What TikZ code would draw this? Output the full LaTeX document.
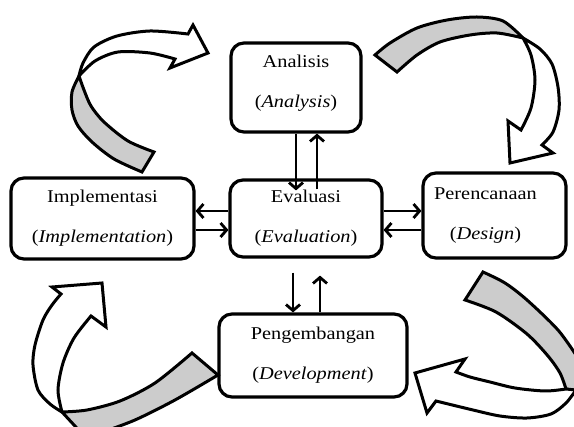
\documentclass[tikz,border=0pt]{standalone}
\usepackage{fontspec}
\setmainfont{Liberation Serif}[FakeStretch=1.13]
\usetikzlibrary{arrows.meta}
\definecolor{ribbon}{RGB}{204,204,204}
\begin{document}
\begin{tikzpicture}[x=1pt,y=-1pt,
  box/.style={draw, line width=3.2pt, rounded corners=13pt, align=center,
    font=\fontsize{18}{40}\selectfont, inner sep=0pt},
  arr/.style={line width=2.8pt, -{Straight Barb[length=6pt,width=14pt]}},
  big/.style={draw, line width=3pt}]
\clip (0,0) rectangle (574,427);
% big curved arrows
% top-left
\filldraw[big, fill=ribbon] plot[smooth] coordinates {(79,76) (72,92) (72,110) (78,126) (92,142) (114,159) (142,172)}
  -- (154,152) -- plot[smooth] coordinates {(154,152) (128,141) (104,122) (91,106) (84,90) (79,76)} -- cycle;
\filldraw[big, fill=white] plot[smooth] coordinates {(79,76) (83,63) (94,47) (117,36) (150,31) (188,34)}
  -- (193,25) -- (208,53) -- (170,68) -- plot[smooth] coordinates {(175,59) (150,53) (118,52) (95,61) (79,76)} -- cycle;
% top-right
\filldraw[big, fill=ribbon] plot[smooth] coordinates {(375,55) (390,43) (417,28) (447,20) (477,17) (503,21) (523,38)}
  -- plot[smooth] coordinates {(523,38) (497,33) (470,35) (440,42) (417,55) (397,72)} -- cycle;
\filldraw[big, fill=white] plot[smooth] coordinates {(523,38) (540,49) (552,64) (558,87) (559,110) (553,132) (542,145)}
  -- (553,153) -- (510,163) -- (508,121) -- plot[smooth] coordinates {(521,130) (531,108) (535,80) (531,55) (523,38)} -- cycle;
% bottom-left
\filldraw[big, fill=ribbon] plot[smooth] coordinates {(62,412) (87,410) (120,401) (155,383) (192,353)}
  -- (218,375) -- plot[smooth] coordinates {(218,375) (175,400) (135,420) (100,433)} -- (86,438) -- cycle;
\filldraw[big, fill=white] plot[smooth] coordinates {(62,412) (50,404) (38,390) (33,365) (35,345) (43,320) (52,305) (61,294)}
  -- (52,287) -- (102,283) -- (106,327) -- plot[smooth] coordinates {(91,316) (74,338) (63,363) (58,390) (62,412)} -- cycle;
% bottom-right
\filldraw[big, fill=ribbon] plot[smooth] coordinates {(566,389) (560,373) (548,356) (527,334) (496,312) (465,300)}
  -- (483,272) -- plot[smooth] coordinates {(483,272) (505,283) (527,300) (558,330) (578,358)} -- (580,392) -- cycle;
\filldraw[big, fill=white] plot[smooth] coordinates {(566,389) (545,391) (515,388) (490,382) (470,377) (456,372)}
  -- (465,359) -- (415,373) -- (427,413) -- plot[smooth] coordinates {(436,401) (473,410) (500,416) (527,418) (551,414) (566,403) (576,390)} -- cycle;
% boxes
\node[box, minimum width=130pt, minimum height=89pt] (ana) at (296,87.5) {Analisis\\(\emph{Analysis})\rule[-12pt]{0pt}{12pt}};
\node[box, minimum width=183pt, minimum height=81pt] (imp) at (102.5,218.5) {Implementasi\\(\emph{Implementation})};
\node[box, minimum width=152pt, minimum height=77pt] (eva) at (306,218.5) {Evaluasi\\(\emph{Evaluation})};
\node[box, minimum width=143pt, minimum height=85pt] (per) at (494.5,215.5) {Perencanaan\hspace*{18pt}\\(\emph{Design})\hspace*{18pt}};
\node[box, minimum width=188pt, minimum height=83pt] (pen) at (313,355.5) {Pengembangan\\(\emph{Development})};
% small arrows
\draw[arr] (ana.south) -- ([yshift=-12pt]ana.south |- eva.north);
\draw[arr] ([xshift=21pt,yshift=-11pt]ana.south |- eva.north) -- ([xshift=21pt]ana.south);
\draw[arr] ([yshift=7.5pt]eva.west) -- ([yshift=7.5pt]eva.west -| imp.east);
\draw[arr] ([yshift=-11.5pt]eva.west -| imp.east) -- ([yshift=-11.5pt]eva.west);
\draw[arr] ([yshift=7.5pt]eva.east) -- ([yshift=7.5pt]eva.east -| per.west);
\draw[arr] ([yshift=-11.5pt]eva.east -| per.west) -- ([yshift=-11.5pt]eva.east);
\draw[arr] ([xshift=-13pt,yshift=-14pt]eva.south) -- ([xshift=-13pt]eva.south |- pen.north);
\draw[arr] ([xshift=14pt]eva.south |- pen.north) -- ([xshift=14pt,yshift=-17pt]eva.south);
\end{tikzpicture}
\end{document}
